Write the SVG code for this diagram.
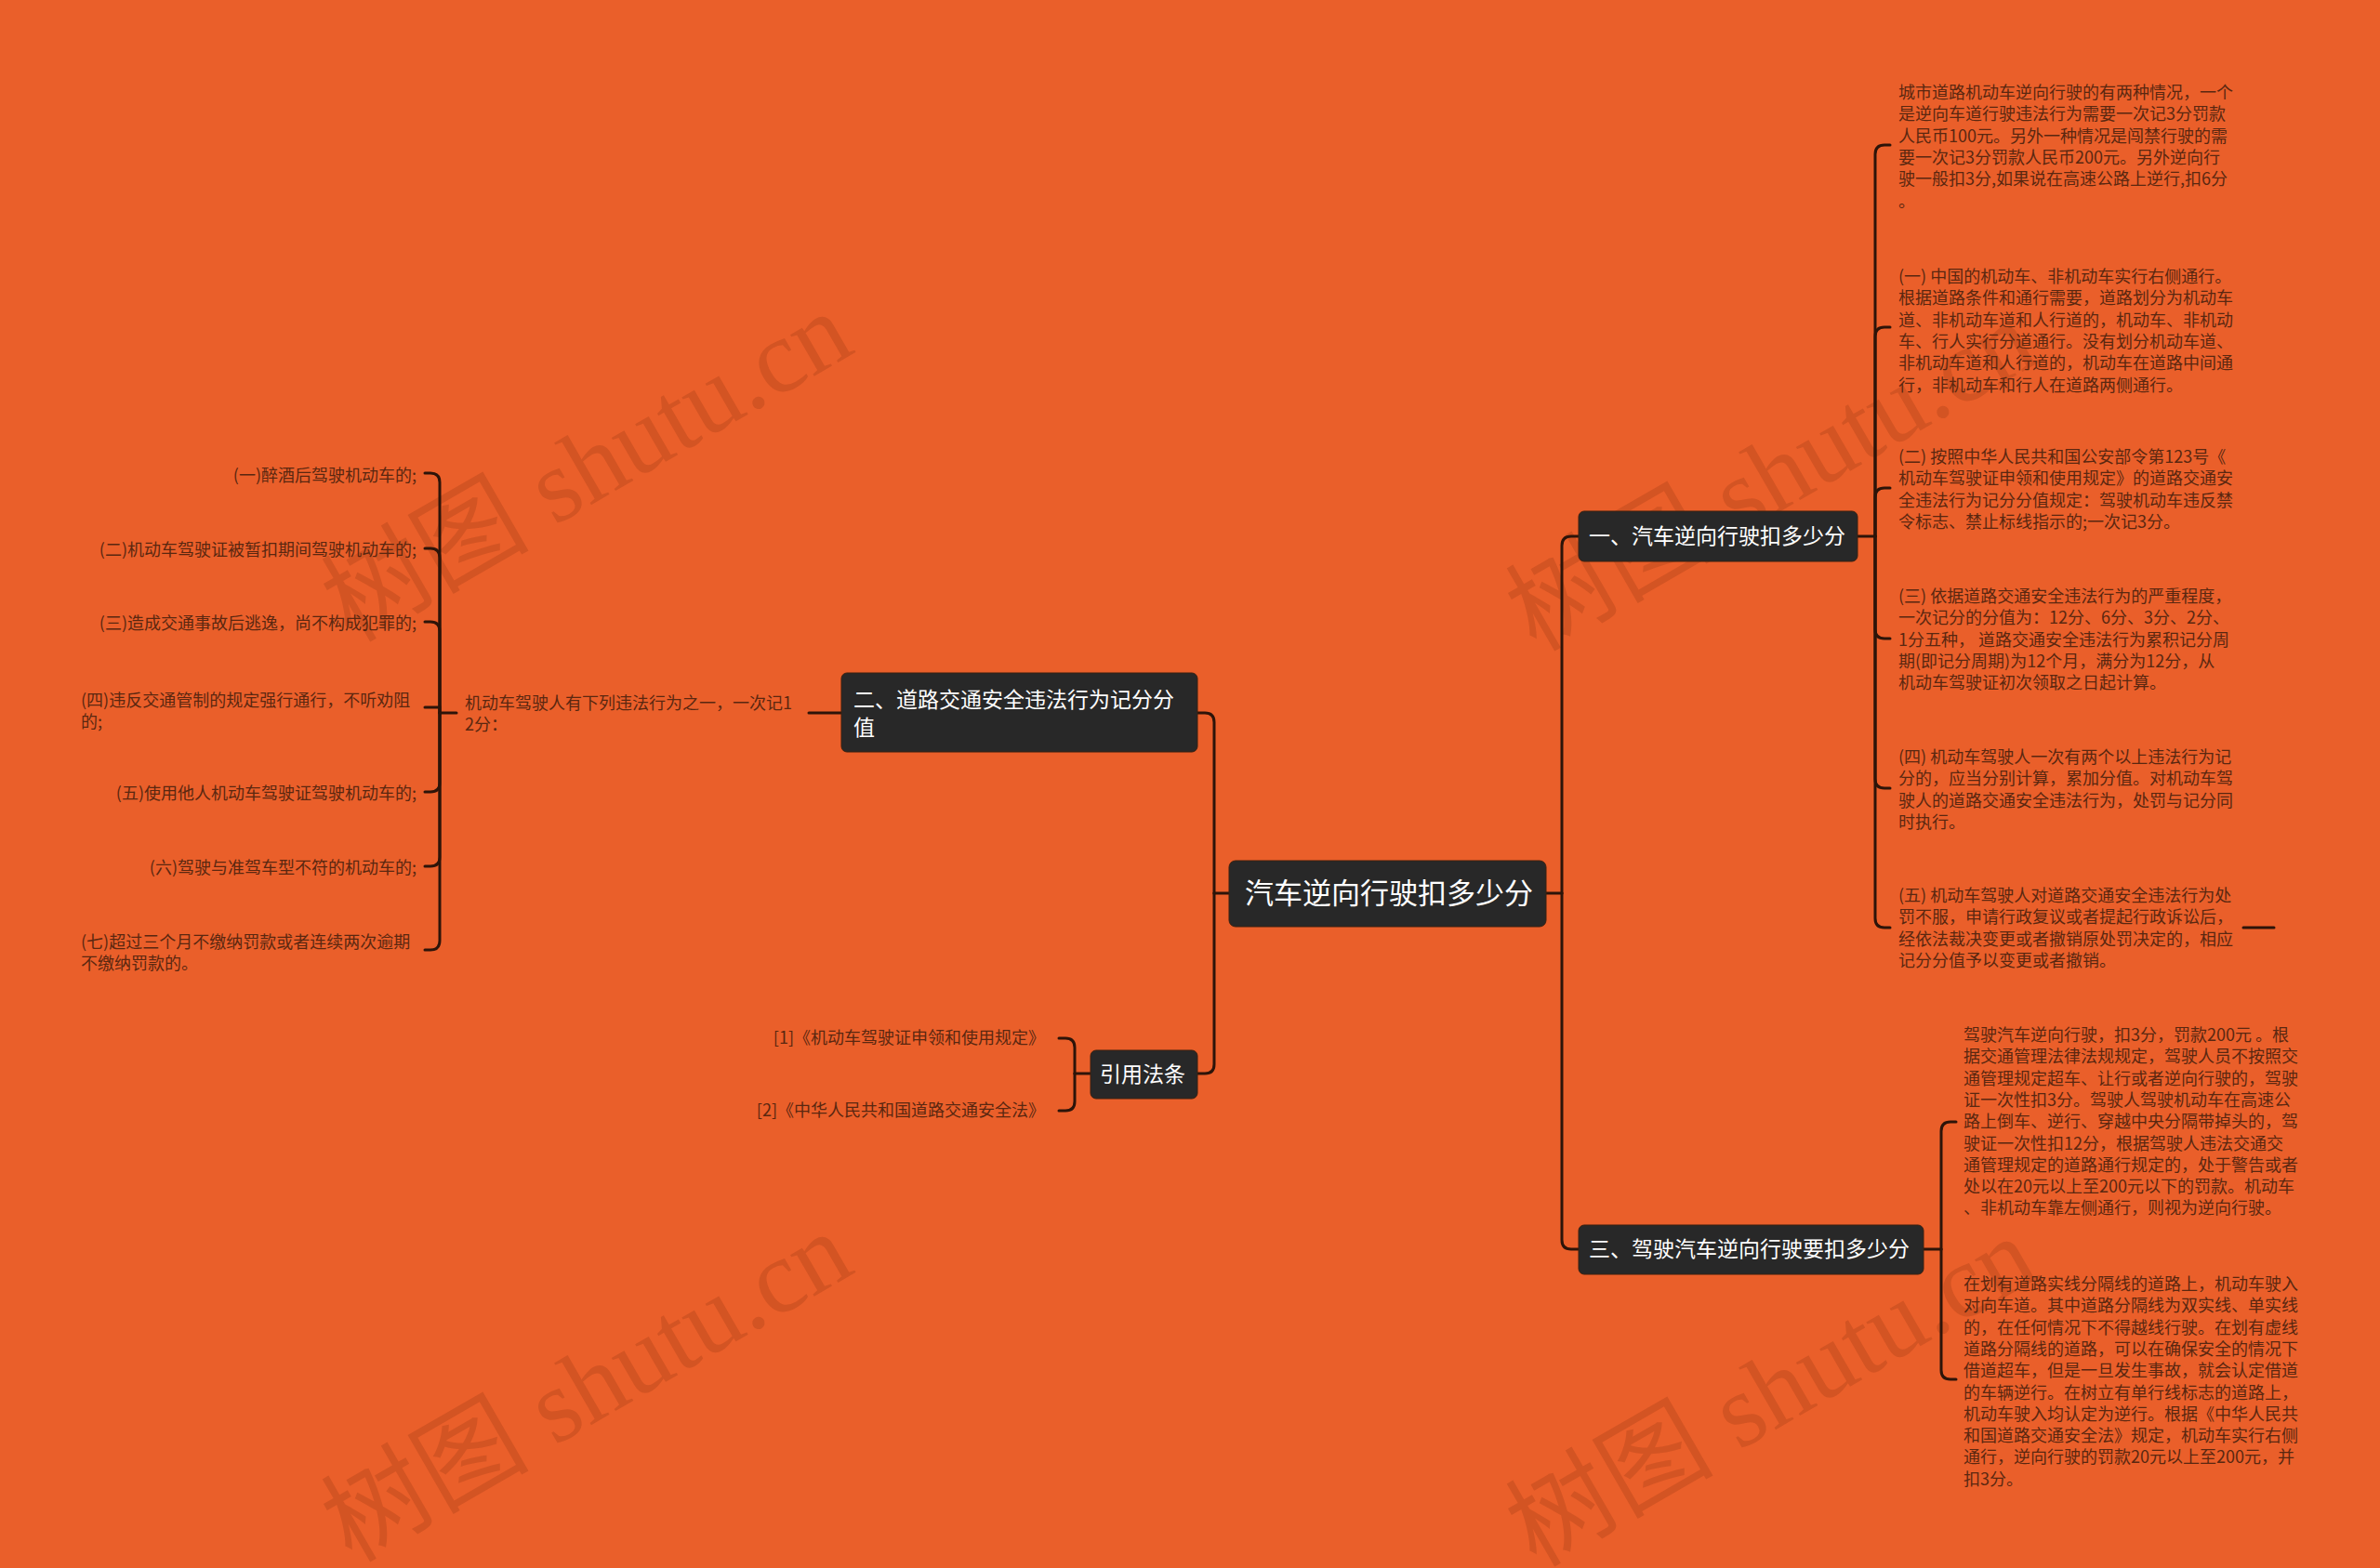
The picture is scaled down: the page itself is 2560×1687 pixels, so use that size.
<svg xmlns="http://www.w3.org/2000/svg" width="2560" height="1687" viewBox="0 0 2560 1687">
<style>
.bg{fill:#EA5F2A}
.box{fill:#282828;stroke:#3a2010;stroke-width:1}
.nt{font-family:"Noto Sans CJK SC","Noto Sans",sans-serif;fill:#ffffff}
.lt{font-family:"Noto Sans CJK SC","Noto Sans",sans-serif;font-size:18px;fill:#5a2710}
.cn path{fill:none;stroke:#2d1409;stroke-width:3;stroke-linecap:round}
.wm{font-family:"Liberation Serif","Noto Sans CJK SC",serif;font-size:112px;fill:#7a2a0a;fill-opacity:0.2}
</style>
<rect class="bg" x="0" y="0" width="2560" height="1687"/>

<g id="watermarks">
<text class="wm" text-anchor="middle" transform="translate(650,535) rotate(-30)">树图 shutu.cn</text>
<text class="wm" text-anchor="middle" transform="translate(1924,545) rotate(-30)">树图 shutu.cn</text>
<text class="wm" text-anchor="middle" transform="translate(650,1525) rotate(-30)">树图 shutu.cn</text>
<text class="wm" text-anchor="middle" transform="translate(1924,1530) rotate(-30)">树图 shutu.cn</text>
</g>

<g id="connectors" class="cn">
<path d="M1662,961 H1680"/>
<path d="M1680,961 V587 Q1680,577 1690,577 H1698"/>
<path d="M1680,961 V1334 Q1680,1344 1690,1344 H1698"/>
<path d="M1322,961 H1306"/>
<path d="M1306,961 V777 Q1306,767 1296,767 H1288"/>
<path d="M1306,961 V1145 Q1306,1155 1296,1155 H1288"/>
<path d="M1998,577 H2017"/>
<path d="M2017,577 V166 Q2017,156 2027,156 H2033"/>
<path d="M2017,577 V362 Q2017,352 2027,352 H2033"/>
<path d="M2017,577 V535 Q2017,525 2027,525 H2033"/>
<path d="M2017,577 V677 Q2017,687 2027,687 H2033"/>
<path d="M2017,577 V838 Q2017,848 2027,848 H2033"/>
<path d="M2017,577 V988 Q2017,998 2027,998 H2033"/>
<path d="M2413,998 H2446"/>
<path d="M2069,1344 H2088"/>
<path d="M2088,1344 V1217 Q2088,1207 2098,1207 H2104"/>
<path d="M2088,1344 V1474 Q2088,1484 2098,1484 H2104"/>
<path d="M905,767 H870"/>
<path d="M491,767 H473"/>
<path d="M473,767 V519 Q473,509 463,509 H457"/>
<path d="M473,767 V600 Q473,590 463,590 H457"/>
<path d="M473,767 V679 Q473,669 463,669 H457"/>
<path d="M473,767 V761 H457"/>
<path d="M473,767 V842 Q473,852 463,852 H457"/>
<path d="M473,767 V922 Q473,932 463,932 H457"/>
<path d="M473,767 V1012 Q473,1022 463,1022 H457"/>
<path d="M1173,1155 H1156"/>
<path d="M1156,1155 V1127 Q1156,1117 1146,1117 H1139"/>
<path d="M1156,1155 V1185 Q1156,1195 1146,1195 H1139"/>
</g>

<g id="root">
<rect class="box" x="1322" y="926" width="341" height="71" rx="7"/>
<text class="nt" x="1339" y="972" font-size="31">汽车逆向行驶扣多少分</text>
</g>

<g id="n1">
<rect class="box" x="1698" y="550" width="300" height="54" rx="6"/>
<text class="nt" x="1709" y="585" font-size="23">一、汽车逆向行驶扣多少分</text>
</g>

<g id="n2">
<rect class="box" x="905" y="724" width="383" height="85" rx="6"/>
<text class="nt" x="918" y="761" font-size="23">二、道路交通安全违法行为记分分<tspan x="918" y="791">值</tspan></text>
</g>

<g id="n3">
<rect class="box" x="1698" y="1318" width="371" height="53" rx="6"/>
<text class="nt" x="1709" y="1352" font-size="23">三、驾驶汽车逆向行驶要扣多少分</text>
</g>

<g id="n4">
<rect class="box" x="1173" y="1130" width="115" height="52" rx="6"/>
<text class="nt" x="1183" y="1164" font-size="23">引用法条</text>
</g>

<g id="n1a">
<text class="lt" x="2042" y="106">城市道路机动车逆向行驶的有两种情况，一个<tspan x="2042" dy="23.3">是逆向车道行驶违法行为需要一次记3分罚款</tspan><tspan x="2042" dy="23.3">人民币100元。另外一种情况是闯禁行驶的需</tspan><tspan x="2042" dy="23.3">要一次记3分罚款人民币200元。另外逆向行</tspan><tspan x="2042" dy="23.3">驶一般扣3分,如果说在高速公路上逆行,扣6分</tspan><tspan x="2042" dy="23.3">。</tspan></text>
</g>
<g id="n1b">
<text class="lt" x="2042" y="304">(一) 中国的机动车、非机动车实行右侧通行。<tspan x="2042" dy="23.3">根据道路条件和通行需要，道路划分为机动车</tspan><tspan x="2042" dy="23.3">道、非机动车道和人行道的，机动车、非机动</tspan><tspan x="2042" dy="23.3">车、行人实行分道通行。没有划分机动车道、</tspan><tspan x="2042" dy="23.3">非机动车道和人行道的，机动车在道路中间通</tspan><tspan x="2042" dy="23.3">行，非机动车和行人在道路两侧通行。</tspan></text>
</g>
<g id="n1c">
<text class="lt" x="2042" y="498">(二) 按照中华人民共和国公安部令第123号《<tspan x="2042" dy="23.3">机动车驾驶证申领和使用规定》的道路交通安</tspan><tspan x="2042" dy="23.3">全违法行为记分分值规定：驾驶机动车违反禁</tspan><tspan x="2042" dy="23.3">令标志、禁止标线指示的;一次记3分。</tspan></text>
</g>
<g id="n1d">
<text class="lt" x="2042" y="648">(三) 依据道路交通安全违法行为的严重程度，<tspan x="2042" dy="23.3">一次记分的分值为：12分、6分、3分、2分、</tspan><tspan x="2042" dy="23.3">1分五种， 道路交通安全违法行为累积记分周</tspan><tspan x="2042" dy="23.3">期(即记分周期)为12个月，满分为12分，从</tspan><tspan x="2042" dy="23.3">机动车驾驶证初次领取之日起计算。</tspan></text>
</g>
<g id="n1e">
<text class="lt" x="2042" y="821">(四) 机动车驾驶人一次有两个以上违法行为记<tspan x="2042" dy="23.3">分的，应当分别计算，累加分值。对机动车驾</tspan><tspan x="2042" dy="23.3">驶人的道路交通安全违法行为，处罚与记分同</tspan><tspan x="2042" dy="23.3">时执行。</tspan></text>
</g>
<g id="n1f">
<text class="lt" x="2042" y="970">(五) 机动车驾驶人对道路交通安全违法行为处<tspan x="2042" dy="23.3">罚不服，申请行政复议或者提起行政诉讼后，</tspan><tspan x="2042" dy="23.3">经依法裁决变更或者撤销原处罚决定的，相应</tspan><tspan x="2042" dy="23.3">记分分值予以变更或者撤销。</tspan></text>
</g>

<g id="n3a">
<text class="lt" x="2112" y="1120">驾驶汽车逆向行驶，扣3分，罚款200元 。根<tspan x="2112" dy="23.3">据交通管理法律法规规定，驾驶人员不按照交</tspan><tspan x="2112" dy="23.3">通管理规定超车、让行或者逆向行驶的，驾驶</tspan><tspan x="2112" dy="23.3">证一次性扣3分。驾驶人驾驶机动车在高速公</tspan><tspan x="2112" dy="23.3">路上倒车、逆行、穿越中央分隔带掉头的，驾</tspan><tspan x="2112" dy="23.3">驶证一次性扣12分，根据驾驶人违法交通交</tspan><tspan x="2112" dy="23.3">通管理规定的道路通行规定的，处于警告或者</tspan><tspan x="2112" dy="23.3">处以在20元以上至200元以下的罚款。机动车</tspan><tspan x="2112" dy="23.3">、非机动车靠左侧通行，则视为逆向行驶。</tspan></text>
</g>
<g id="n3b">
<text class="lt" x="2112" y="1388">在划有道路实线分隔线的道路上，机动车驶入<tspan x="2112" dy="23.3">对向车道。其中道路分隔线为双实线、单实线</tspan><tspan x="2112" dy="23.3">的，在任何情况下不得越线行驶。在划有虚线</tspan><tspan x="2112" dy="23.3">道路分隔线的道路，可以在确保安全的情况下</tspan><tspan x="2112" dy="23.3">借道超车，但是一旦发生事故，就会认定借道</tspan><tspan x="2112" dy="23.3">的车辆逆行。在树立有单行线标志的道路上，</tspan><tspan x="2112" dy="23.3">机动车驶入均认定为逆行。根据《中华人民共</tspan><tspan x="2112" dy="23.3">和国道路交通安全法》规定，机动车实行右侧</tspan><tspan x="2112" dy="23.3">通行，逆向行驶的罚款20元以上至200元，并</tspan><tspan x="2112" dy="23.3">扣3分。</tspan></text>
</g>

<g id="n2a">
<text class="lt" x="500" y="763">机动车驾驶人有下列违法行为之一，一次记1<tspan x="500" dy="23.3">2分：</tspan></text>
</g>
<g id="n2a1"><text class="lt" x="448" y="518" text-anchor="end">(一)醉酒后驾驶机动车的;</text></g>
<g id="n2a2"><text class="lt" x="448" y="598" text-anchor="end">(二)机动车驾驶证被暂扣期间驾驶机动车的;</text></g>
<g id="n2a3"><text class="lt" x="448" y="677" text-anchor="end">(三)造成交通事故后逃逸，尚不构成犯罪的;</text></g>
<g id="n2a4"><text class="lt" x="87" y="760">(四)违反交通管制的规定强行通行，不听劝阻<tspan x="87" dy="23.3">的;</tspan></text></g>
<g id="n2a5"><text class="lt" x="448" y="860" text-anchor="end">(五)使用他人机动车驾驶证驾驶机动车的;</text></g>
<g id="n2a6"><text class="lt" x="448" y="940" text-anchor="end">(六)驾驶与准驾车型不符的机动车的;</text></g>
<g id="n2a7"><text class="lt" x="87" y="1020">(七)超过三个月不缴纳罚款或者连续两次逾期<tspan x="87" dy="23.3">不缴纳罚款的。</tspan></text></g>

<g id="n4a"><text class="lt" x="1124" y="1123" text-anchor="end">[1]《机动车驾驶证申领和使用规定》</text></g>
<g id="n4b"><text class="lt" x="1124" y="1201" text-anchor="end">[2]《中华人民共和国道路交通安全法》</text></g>
</svg>
